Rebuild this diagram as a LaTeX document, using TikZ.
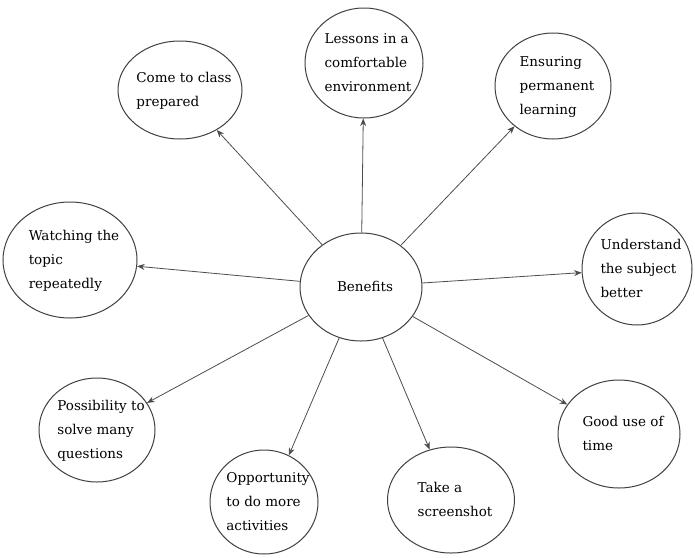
\documentclass[tikz,border=0pt]{standalone}
\usepackage{fontspec}
\setmainfont{DejaVu Serif}
\usetikzlibrary{shapes.geometric,arrows.meta}
\newcommand\ctxt[1]{\makebox[0pt]{\hspace*{8pt}\smash{\raisebox{-0.25em}{\begin{tabular}{@{}l@{}}#1\end{tabular}}}}}
\begin{document}
\begin{tikzpicture}[x=1pt,y=-1pt,
  bubble/.style={shape=ellipse,draw=black!75,line width=1pt,inner sep=0pt,
    font=\fontsize{13.5}{24}\selectfont,text=black},
  link/.style={draw=black!70,line width=0.8pt,-{Stealth[length=7.5pt,width=6pt]}}]
\useasboundingbox (0,0) rectangle (695,557);
\node[bubble,minimum width=122pt,minimum height=108pt] (ben) at (361,287) {\ctxt{Benefits}};
\node[bubble,minimum width=124pt,minimum height=98pt] (come) at (180,90) {\ctxt{Come to class\\prepared}};
\node[bubble,minimum width=118pt,minimum height=110pt] (less) at (364,63) {\ctxt{Lessons in a\\comfortable\\environment}};
\node[bubble,minimum width=116pt,minimum height=106pt] (ens) at (553,86) {\ctxt{Ensuring\\permanent\\learning}};
\node[bubble,minimum width=134pt,minimum height=116pt] (watch) at (70,260) {\ctxt{Watching the\\topic\\repeatedly}};
\node[bubble,minimum width=110pt,minimum height=112pt] (und) at (637,269) {\ctxt{Understand\\the subject\\better}};
\node[bubble,minimum width=116pt,minimum height=104pt] (poss) at (97,430) {\ctxt{Possibility to\\solve many\\questions}};
\node[bubble,minimum width=108pt,minimum height=104pt] (opp) at (264,502) {\ctxt{Opportunity\\to do more\\activities}};
\node[bubble,minimum width=127pt,minimum height=106pt] (take) at (451,500) {\ctxt{Take a\\screenshot}};
\node[bubble,minimum width=122pt,minimum height=108pt] (good) at (619,434) {\ctxt{Good use of\\time}};
\draw[link] (ben) -- (come);
\draw[link] (ben) -- (less);
\draw[link] (ben) -- (ens);
\draw[link] (ben) -- (watch);
\draw[link] (ben) -- (und);
\draw[link] (ben) -- (poss);
\draw[link] (ben) -- (opp.62);
\draw[link] (ben) -- (take);
\draw[link] (ben) -- (good);
\end{tikzpicture}
\end{document}
